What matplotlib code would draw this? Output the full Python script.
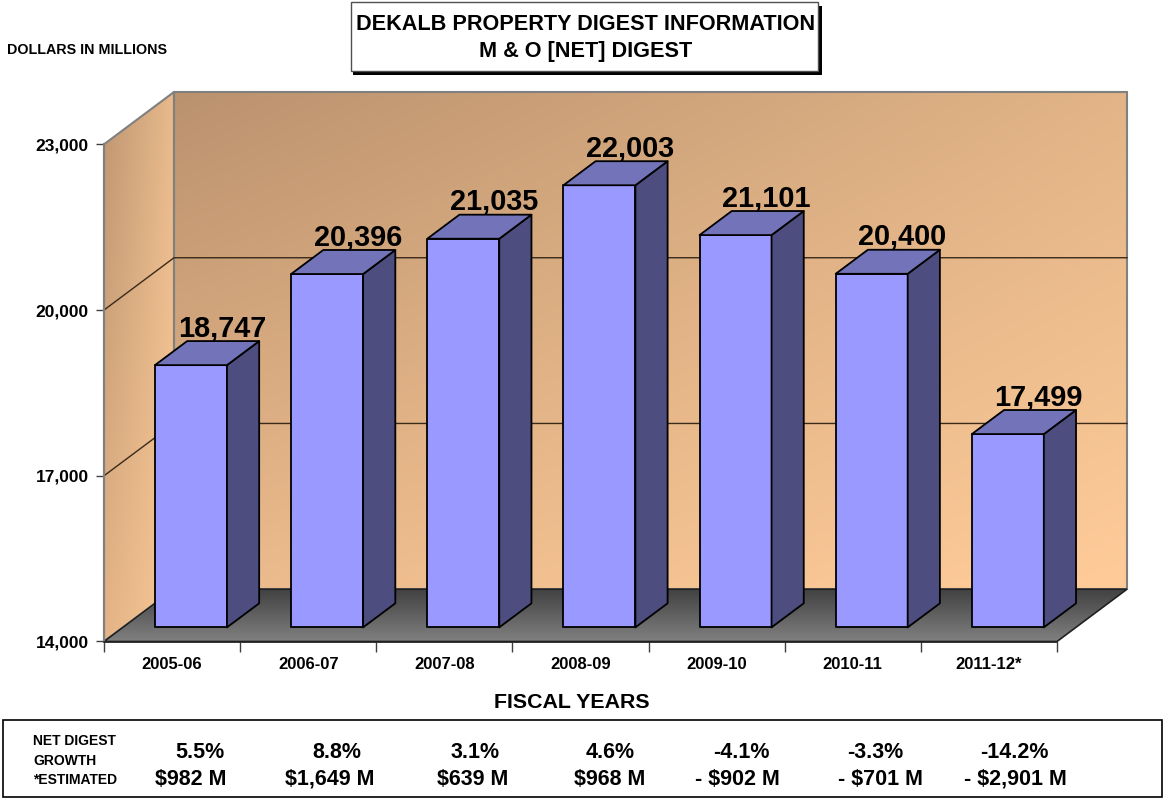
import matplotlib
matplotlib.use("Agg")
import matplotlib.pyplot as plt
from matplotlib.patches import Polygon, Rectangle
import numpy as np

years = ["2005-06", "2006-07", "2007-08", "2008-09", "2009-10", "2010-11", "2011-12*"]
digest = [18747, 20396, 21035, 22003, 21101, 20400, 17499]
growth_pct = ["5.5%", "8.8%", "3.1%", "4.6%", "-4.1%", "-3.3%", "-14.2%"]
growth_amt = ["$982 M", "$1,649 M", "$639 M", "$968 M", "- $902 M", "- $701 M", "- $2,901 M"]
y_ticks = [14000, 17000, 20000, 23000]

# table column centres, in pixels
pct_x = [200, 337, 475, 610, 741, 875, 1014]
amt_x = [191, 330, 473, 610, 737, 880, 1015]

W, H = 1163, 798
plt.rcParams["font.family"] = ["Liberation Sans", "DejaVu Sans"]
plt.rcParams["font.weight"] = "bold"

fig = plt.figure(figsize=(W / 100, H / 100), dpi=100)
ax = fig.add_axes([104 / W, (H - 641.5) / H, 953 / W, 497.2 / H])
ax.patch.set_visible(False)

n = len(years)
ymin, ymax = 14000, 23000
# 3d look: how far the back wall sits from the front plane
depth_x = 70 * n / 953
depth_y = 52.3 * (ymax - ymin) / 497.2
bar_w = 72 * n / 953
front, back = 0.27, 0.73


def pt(x, y, d=0.0):
    return (x + d * depth_x, y + d * depth_y)


def gradient(corners, c00, c10, c01, c11, clip):
    # corners = x0, x1, y0, y1, colours go left/right and bottom/top
    g = np.linspace(0, 1, 200)
    gx, gy = np.meshgrid(g, g)
    img = np.zeros((200, 200, 3))
    for k in range(3):
        img[:, :, k] = ((1 - gx) * (1 - gy) * c00[k] + gx * (1 - gy) * c10[k]
                        + (1 - gx) * gy * c01[k] + gx * gy * c11[k]) / 255
    im = ax.imshow(img, extent=corners, origin="lower", aspect="auto", zorder=1, interpolation="bilinear")
    im.set_clip_box(fig.bbox)
    patch = Polygon(clip, closed=True, transform=ax.transData, fill=False, edgecolor="none")
    ax.add_patch(patch)
    patch.set_clip_on(False)
    im.set_clip_path(patch)


def poly(points, **kw):
    p = Polygon(points, closed=True, clip_on=False, **kw)
    ax.add_patch(p)
    return p


# back wall
back_pts = [pt(0, ymin, 1), pt(n, ymin, 1), pt(n, ymax, 1), pt(0, ymax, 1)]
gradient((depth_x, n + depth_x, ymin + depth_y, ymax + depth_y),
         (235, 186, 140), (255, 204, 153), (186, 146, 110), (226, 180, 135), back_pts)
# side wall
side_pts = [pt(0, ymin), pt(0, ymin, 1), pt(0, ymax, 1), pt(0, ymax)]
gradient((0, depth_x, ymin, ymax + depth_y),
         (228, 180, 135), (250, 200, 150), (190, 150, 114), (232, 186, 140), side_pts)
# floor
floor_pts = [pt(0, ymin), pt(n, ymin), pt(n, ymin, 1), pt(0, ymin, 1)]
gradient((0, n + depth_x, ymin, ymin + depth_y),
         (128, 128, 128), (128, 128, 128), (64, 64, 64), (64, 64, 64), floor_pts)

poly(back_pts, fill=False, edgecolor="#808080", lw=1.5, zorder=2)
poly(side_pts, fill=False, edgecolor="#808080", lw=1.5, zorder=2)
poly(floor_pts, fill=False, edgecolor="#202020", lw=1.2, zorder=2)

# gridlines on the walls
for v in y_ticks[1:3]:
    xs, ys = zip(pt(0, v), pt(0, v, 1), pt(n, v, 1))
    ax.plot(xs, ys, color="#3a2a1a", lw=1, zorder=2, clip_on=False)

# bars
for i, v in enumerate(digest):
    x0 = i + 0.5 - bar_w / 2
    x1 = i + 0.5 + bar_w / 2
    poly([pt(x0, ymin, front), pt(x1, ymin, front), pt(x1, v, front), pt(x0, v, front)],
         facecolor="#9999FF", edgecolor="black", lw=1.3, zorder=3, joinstyle="round")
    poly([pt(x1, ymin, front), pt(x1, ymin, back), pt(x1, v, back), pt(x1, v, front)],
         facecolor="#4D4D80", edgecolor="black", lw=1.3, zorder=3, joinstyle="round")
    poly([pt(x0, v, front), pt(x1, v, front), pt(x1, v, back), pt(x0, v, back)],
         facecolor="#7373BA", edgecolor="black", lw=1.3, zorder=3, joinstyle="round")
    lx, ly = pt(i + 0.5, v, back)
    ax.annotate(f"{v:,}", (lx, ly), xytext=(-1, 3.5), textcoords="offset points",
                ha="center", va="baseline", fontsize=20.8, zorder=4, annotation_clip=False)

ax.set_xlim(0, n)
ax.set_ylim(ymin, ymax)
ax.set_yticks(y_ticks)
ax.set_yticklabels([f"{v:,}" for v in y_ticks], fontsize=12.5)
ax.set_xticks(range(n + 1))
ax.set_xticklabels([])
ax.set_xticks(np.arange(n) + 0.5, minor=True)
ax.set_xticklabels(years, minor=True, fontsize=12)
ax.tick_params(axis="x", which="minor", length=0, pad=11)
ax.tick_params(axis="x", which="major", length=7, width=1, color="#404040")
ax.tick_params(axis="y", length=6, width=1, pad=5, color="#404040")
for side in ["top", "right"]:
    ax.spines[side].set_visible(False)
ax.spines["left"].set_color("#808080")
ax.spines["left"].set_linewidth(1.5)
ax.spines["bottom"].set_color("#202020")
ax.spines["bottom"].set_linewidth(1.2)
for s in ax.spines.values():
    s.set_zorder(2.5)


def ftext(x, y, s, **kw):
    kw.setdefault("ha", "center")
    kw.setdefault("va", "center")
    return fig.text(x / W, 1 - y / H, s, **kw)


def frect(x0, y0, x1, y1, **kw):
    fig.add_artist(Rectangle((x0 / W, 1 - y1 / H), (x1 - x0) / W, (y1 - y0) / H,
                             transform=fig.transFigure, **kw))


# title box with hard shadow
frect(353, 6, 822, 75, facecolor="black", edgecolor="none", zorder=5)
frect(350.5, 2, 817.5, 71, facecolor="white", edgecolor="#505050", lw=1, zorder=6)
ftext(586, 24, "DEKALB PROPERTY DIGEST INFORMATION", fontsize=15.6, zorder=7)
ftext(586, 51, "M & O [NET] DIGEST", fontsize=15.6, zorder=7)

ftext(7, 50.5, "DOLLARS IN MILLIONS", ha="left", fontsize=10.3)
ftext(572, 702.5, "FISCAL YEARS", fontsize=15.4)

# growth table under the chart
frect(2.5, 719.5, 1161.5, 797, facecolor="white", edgecolor="black", lw=1.2, zorder=1)
for row_y, label in zip([741, 761, 780.5], ["NET DIGEST", "GROWTH", "*ESTIMATED"]):
    ftext(33, row_y, label, ha="left", fontsize=10, zorder=2)
for px, s in zip(pct_x, growth_pct):
    ftext(px, 752.5, s, fontsize=15.5, zorder=2)
for px, s in zip(amt_x, growth_amt):
    ftext(px, 779.5, s, fontsize=15.5, zorder=2)

fig.savefig("out.png", dpi=100)
